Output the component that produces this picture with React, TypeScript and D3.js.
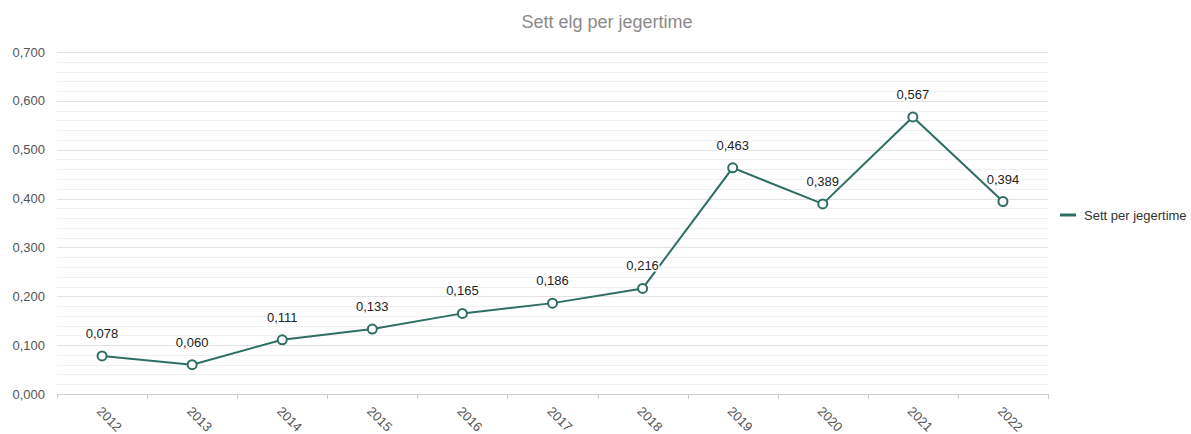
import React from "react";
import * as d3 from "d3";

const years = ["2012","2013","2014","2015","2016","2017","2018","2019","2020","2021","2022"];
const values = [0.078,0.060,0.111,0.133,0.165,0.186,0.216,0.463,0.389,0.567,0.394];
const yTicks = [0,0.1,0.2,0.3,0.4,0.5,0.6,0.7];
const seriesName = "Sett per jegertime";
const title = "Sett elg per jegertime";

const W = 1191, H = 434;
const left = 57, right = 1048, top = 52, bottom = 394;
const color = "#2f6e64";
const fmt = (v: number) => v.toFixed(3).replace(".", ",");

export default function App() {
  const x = d3.scaleBand<string>().domain(years).range([left, right]);
  const y = d3.scaleLinear().domain([0, 0.7]).range([bottom, top]);
  const minor = d3.range(0, 0.7001, 0.02);
  const line = d3.line<number>().x((_, i) => x(years[i])! + x.bandwidth() / 2).y(d => y(d));
  const font = "'Liberation Sans', Arial, sans-serif";
  return (
    <svg width={W} height={H} style={{ position: "absolute", left: 0, top: 0, fontFamily: font }}>
      <rect width={W} height={H} fill="#fff" />
      <text x={607} y={28} textAnchor="middle" fontSize={18} fill="#8a8a8a">{title}</text>
      {minor.map((v, i) => (
        <line key={"m" + i} x1={left} x2={right} y1={Math.round(y(v)) + 0.5} y2={Math.round(y(v)) + 0.5} stroke="#f0f0f0" strokeWidth={1} />
      ))}
      {yTicks.map((v, i) => (
        <g key={"t" + i}>
          <line x1={left} x2={right} y1={Math.round(y(v)) + 0.5} y2={Math.round(y(v)) + 0.5} stroke="#e3e3e3" strokeWidth={1} />
          <text x={45} y={y(v) + 4.5} textAnchor="end" fontSize={13} fill="#555">{fmt(v)}</text>
        </g>
      ))}
      <line x1={left} x2={right} y1={bottom + 0.5} y2={bottom + 0.5} stroke="#ccc" />
      {years.concat(["end"]).map((yr, i) => {
        const px = i < years.length ? x(yr)! : right;
        return <line key={"xt" + i} x1={Math.round(px) + 0.5} x2={Math.round(px) + 0.5} y1={bottom} y2={bottom + 5} stroke="#ccc" />;
      })}
      {years.map((yr, i) => {
        const cx = x(yr)! + x.bandwidth() / 2;
        return (
          <text key={"xl" + i} x={cx - 6} y={bottom + 18} fontSize={13} fill="#555" transform={`rotate(45 ${cx - 6} ${bottom + 18})`}>{yr}</text>
        );
      })}
      <path d={line(values)!} fill="none" stroke={color} strokeWidth={2} />
      {values.map((v, i) => {
        const cx = x(years[i])! + x.bandwidth() / 2;
        return <circle key={"c" + i} cx={cx} cy={y(v)} r={4.5} fill="#fff" stroke={color} strokeWidth={2} />;
      })}
      {values.map((v, i) => {
        const cx = x(years[i])! + x.bandwidth() / 2;
        return (
          <text key={"l" + i} x={cx} y={y(v) - 18} textAnchor="middle" fontSize={13} fill="#222"
            stroke="#fff" strokeWidth={3} strokeLinejoin="round" style={{ paintOrder: "stroke" }}>{fmt(v)}</text>
        );
      })}
      <line x1={1060} x2={1076} y1={215} y2={215} stroke={color} strokeWidth={3} />
      <text x={1084} y={219.5} fontSize={13} fill="#333">{seriesName}</text>
    </svg>
  );
}
